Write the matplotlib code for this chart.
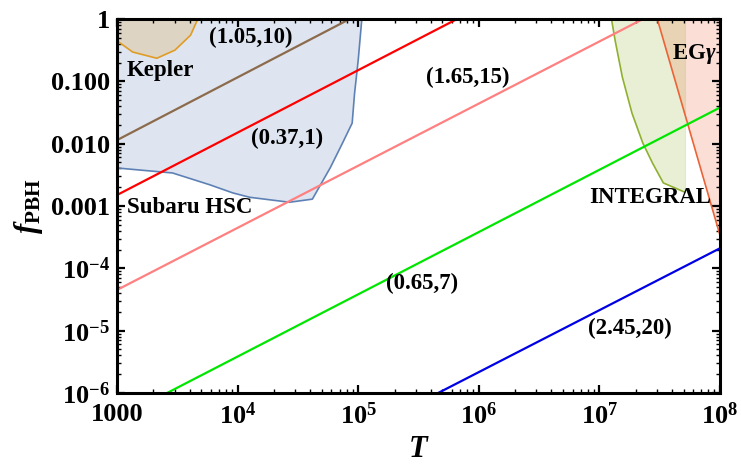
import matplotlib
matplotlib.use("Agg")
import matplotlib.pyplot as plt
from matplotlib.ticker import FixedLocator, FixedFormatter, LogLocator, NullFormatter

plt.rcParams['font.family'] = ['Liberation Serif', 'DejaVu Serif']
plt.rcParams['font.weight'] = 'bold'
plt.rcParams['mathtext.fontset'] = 'custom'
plt.rcParams['mathtext.rm'] = 'Liberation Serif:bold'
plt.rcParams['mathtext.bf'] = 'Liberation Serif:bold'
plt.rcParams['mathtext.it'] = 'Liberation Serif:italic:bold'

# ---- data ----
x_ticks = [1e3, 1e4, 1e5, 1e6, 1e7, 1e8]
x_ticklabels = ['1000', r'$10^{4}$', r'$10^{5}$', r'$10^{6}$', r'$10^{7}$', r'$10^{8}$']
y_ticks = [1e-6, 1e-5, 1e-4, 1e-3, 1e-2, 1e-1, 1]
y_ticklabels = [r'$10^{-6}$', r'$10^{-5}$', r'$10^{-4}$', '0.001', '0.010', '0.100', '1']

# straight lines (two points each, where they meet the frame)
brown_T = [1e3, 8.5e4];  brown_f = [0.0114, 1.0]
red_T = [1e3, 6.6e5];    red_f = [0.0015, 1.0]
pink_T = [1e3, 2.3e7];   pink_f = [4.5e-5, 1.0]
green_T = [2.6e3, 1e8];  green_f = [1e-6, 0.038]
blue_T = [4.6e5, 1e8];   blue_f = [1e-6, 2.1e-4]

# constraint regions (log10 T, log10 f)
subaru_logT = [3.0, 3.46, 3.77, 3.96, 4.10, 4.43, 4.62, 4.77, 4.87, 4.95, 4.97, 5.00, 5.03]
subaru_logf = [-2.39, -2.47, -2.66, -2.79, -2.86, -2.94, -2.89, -2.38, -1.99, -1.67, -1.19, -0.66, 0.0]
kepler_logT = [3.0, 3.13, 3.33, 3.48, 3.61, 3.67]
kepler_logf = [-0.35, -0.53, -0.63, -0.50, -0.26, 0.0]
integral_logT = [7.10, 7.13, 7.19, 7.27, 7.36, 7.44, 7.53, 7.71]
integral_logf = [0.0, -0.34, -0.93, -1.51, -1.99, -2.31, -2.63, -2.78]
eg_logT = [7.48, 8.0]
eg_logf = [0.0, -3.47]

C_SUB = (0.368, 0.507, 0.71)
C_KEP = (0.88, 0.61, 0.14)
C_INT = (0.56, 0.69, 0.19)
C_EG = (0.92, 0.39, 0.21)

fig = plt.figure(figsize=(7.41, 4.65), dpi=100)
ax = fig.add_axes([117/741, 1-393/465, 603/741, 374/465])
ax.set_xscale('log')
ax.set_yscale('log')
ax.set_xlim(1e3, 1e8)
ax.set_ylim(1e-6, 1)

def pw(v):
    return [10**a for a in v]

# Subaru HSC
sT = pw(subaru_logT); sf = pw(subaru_logf)
ax.fill(sT + [1e3], sf + [1.0], color=C_SUB, alpha=0.2, lw=0, zorder=1)
ax.plot(sT, sf, color=C_SUB, lw=1.2, zorder=2)
# Kepler
kT = pw(kepler_logT); kf = pw(kepler_logf)
ax.fill(kT + [1e3], kf + [1.0], color=C_KEP, alpha=0.22, lw=0, zorder=1)
ax.plot(kT, kf, color=C_KEP, lw=1.2, zorder=2)
# INTEGRAL
iT = pw(integral_logT); iF = pw(integral_logf)
ax.fill(iT + [iT[-1]], iF + [1.0], color=C_INT, alpha=0.2, lw=0, zorder=1)
ax.plot(iT, iF, color=C_INT, lw=1.2, zorder=2)
ax.plot([iT[-1], iT[-1]], [iF[-1], 1.0], color=C_INT, lw=0.8, alpha=0.25, zorder=2)
# EG gamma
eT = pw(eg_logT); eF = pw(eg_logf)
ax.fill(eT + [1e8], eF + [1.0], color=C_EG, alpha=0.2, lw=0, zorder=1)
ax.plot(eT, eF, color=C_EG, lw=1.2, zorder=2)

# lines
ax.plot(brown_T, brown_f, color=(0.55, 0.42, 0.30), lw=1.6, zorder=3)
ax.plot(red_T, red_f, color=(1.0, 0.0, 0.0), lw=1.6, zorder=3)
ax.plot(pink_T, pink_f, color=(1.0, 0.5, 0.5), lw=1.6, zorder=3)
ax.plot(green_T, green_f, color=(0.0, 0.9, 0.0), lw=1.6, zorder=3)
ax.plot(blue_T, blue_f, color=(0.0, 0.0, 0.9), lw=1.6, zorder=3)

# labels
tk = dict(fontsize=16.5, fontweight='bold', ha='center', va='center', zorder=5)
ax.text(10**4.11, 10**-0.29, '(1.05,10)', **tk)
ax.text(10**3.36, 10**-0.82, 'Kepler', **tk)
ax.text(10**4.41, 10**-1.91, '(0.37,1)', **tk)
ax.text(10**3.60, 10**-3.02, 'Subaru HSC', **tk)
ax.text(10**5.91, 10**-0.93, '(1.65,15)', **tk)
ax.text(10**7.79, 10**-0.56, r'EG$\gamma$', **tk)
ax.text(10**7.42, 10**-2.87, 'INTEGRAL', **tk)
ax.text(10**5.53, 10**-4.25, '(0.65,7)', **tk)
ax.text(10**7.25, 10**-4.96, '(2.45,20)', **tk)

# ticks
ax.xaxis.set_major_locator(FixedLocator(x_ticks))
ax.xaxis.set_major_formatter(FixedFormatter(x_ticklabels))
ax.yaxis.set_major_locator(FixedLocator(y_ticks))
ax.yaxis.set_major_formatter(FixedFormatter(y_ticklabels))
ax.xaxis.set_minor_locator(LogLocator(base=10, subs=range(2, 10), numticks=20))
ax.yaxis.set_minor_locator(LogLocator(base=10, subs=range(2, 10), numticks=20))
ax.xaxis.set_minor_formatter(NullFormatter())
ax.yaxis.set_minor_formatter(NullFormatter())
ax.tick_params(which='both', direction='in', top=True, right=True, color='black')
ax.tick_params(which='major', length=6, width=1.6, labelsize=19)
ax.tick_params(axis='x', which='major', pad=7)
ax.tick_params(axis='y', which='major', pad=5)
ax.tick_params(which='minor', length=3, width=1.0)
for lab in ax.get_xticklabels() + ax.get_yticklabels():
    lab.set_fontweight('bold')
for s in ax.spines.values():
    s.set_linewidth(2.2)
    s.set_zorder(6)

ax.set_xlabel(r'$T$', fontsize=22, labelpad=4)
ax.set_ylabel(r'$f_{\mathrm{PBH}}$', fontsize=22, labelpad=4)

fig.savefig('out.png', dpi=100)
